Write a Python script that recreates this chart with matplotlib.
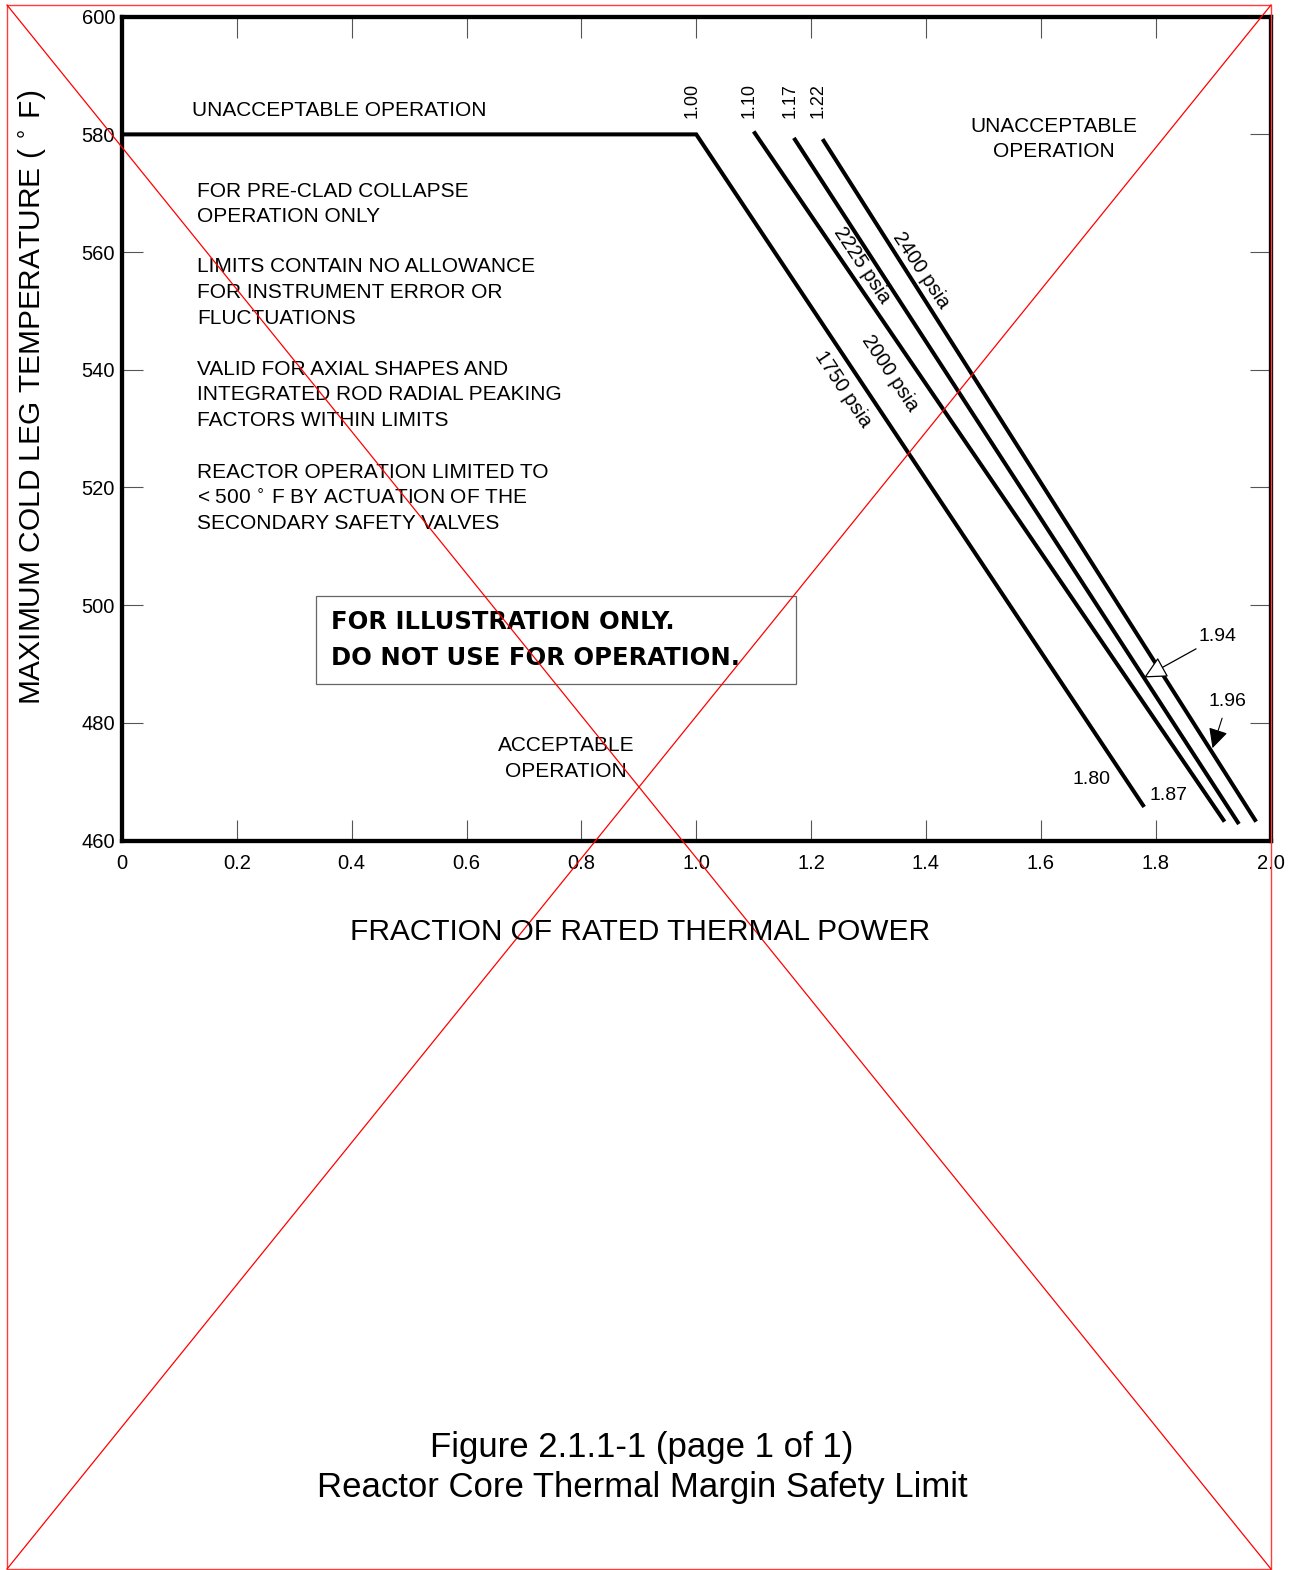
import matplotlib
matplotlib.use("Agg")
import matplotlib.pyplot as plt
from matplotlib.patches import Rectangle
from matplotlib.lines import Line2D

plt.rcParams['font.family'] = ['Liberation Sans', 'DejaVu Sans']
plt.rcParams['mathtext.fontset'] = 'dejavusans'

# ---- axis scales -------------------------------------------------------
x_ticks = [0.0, 0.2, 0.4, 0.6, 0.8, 1.0, 1.2, 1.4, 1.6, 1.8, 2.0]
x_tick_labels = ['0', '0.2', '0.4', '0.6', '0.8', '1.0', '1.2', '1.4', '1.6', '1.8', '2.0']
y_ticks = [460, 480, 500, 520, 540, 560, 580, 600]
y_tick_labels = ['460', '480', '500', '520', '540', '560', '580', '600']

# ---- thermal margin limit lines (power fraction, cold leg temp in F) ---
pressures = ['1750 psia', '2000 psia', '2225 psia', '2400 psia']
start_power = [1.00, 1.10, 1.17, 1.22]
start_labels = ['1.00', '1.10', '1.17', '1.22']
start_temp = [580.0, 580.5, 579.4, 579.2]
end_power = [1.78, 1.92, 1.945, 1.975]
end_temp = [465.7, 463.2, 462.8, 463.2]
plateau_temp = 580.0

# where each pressure name sits along its line
pressure_label_x = [1.256, 1.338, 1.288, 1.392]
pressure_label_y = [536.7, 539.4, 557.8, 557.0]

notes = [
    ('FOR PRE-CLAD COLLAPSE', 569.31),
    ('OPERATION ONLY', 565.05),
    ('LIMITS CONTAIN NO ALLOWANCE', 556.53),
    ('FOR INSTRUMENT ERROR OR', 552.19),
    ('FLUCTUATIONS', 547.86),
    ('VALID FOR AXIAL SHAPES AND', 539.19),
    ('INTEGRATED ROD RADIAL PEAKING', 534.86),
    ('FACTORS WITHIN LIMITS', 530.52),
    ('REACTOR OPERATION LIMITED TO', 521.55),
    ('< 500 $^{\\circ}$ F BY ACTUATION OF THE', 517.13),
    ('SECONDARY SAFETY VALVES', 512.93),
]

W, H = 1295, 1570
fig = plt.figure(figsize=(W / 100, H / 100), dpi=100)
ax = fig.add_axes([122 / W, 1 - 840.5 / H, (1270.5 - 122) / W, (840.5 - 16.7) / H])
ax.set_xlim(0, 2.0)
ax.set_ylim(460, 600)

for s in ax.spines.values():
    s.set_linewidth(3.1)
    s.set_color('black')

ax.set_xticks(x_ticks)
ax.set_xticklabels(x_tick_labels)
ax.set_yticks(y_ticks)
ax.set_yticklabels(y_tick_labels)
ax.tick_params(direction='in', length=15, width=0.8, color='#555555',
               top=True, right=True, labelsize=14.5)
ax.tick_params(axis='x', pad=10)
ax.tick_params(axis='y', pad=5)

# limit lines
for i in range(len(pressures)):
    if i == 0:
        xs = [0.0, start_power[i], end_power[i]]
        ys = [plateau_temp, plateau_temp, end_temp[i]]
    else:
        xs = [start_power[i], end_power[i]]
        ys = [start_temp[i], end_temp[i]]
    ax.plot(xs, ys, color='black', lw=2.9, solid_capstyle='butt',
            solid_joinstyle='miter')
    ax.annotate(start_labels[i], (start_power[i], 582.8), xytext=(-3, 0),
                textcoords='offset points', rotation=90, ha='center',
                va='bottom', fontsize=13)
    ax.text(pressure_label_x[i], pressure_label_y[i], pressures[i],
            rotation=-56.5, rotation_mode='anchor', ha='center', va='center',
            fontsize=14.5)

# end value labels
ax.text(1.689, 470.3, '1.80', ha='center', va='center', fontsize=14)
ax.text(1.823, 467.7, '1.87', ha='center', va='center', fontsize=14)
ax.annotate('1.94', xy=(1.780, 487.7), xytext=(1.908, 494.6), ha='center',
            va='center', fontsize=14,
            arrowprops=dict(arrowstyle='-|>,head_length=0.7,head_width=0.35',
                            fc='white', ec='black', lw=0.9, shrinkA=1,
                            shrinkB=0, mutation_scale=20))
ax.annotate('1.96', xy=(1.899, 475.7), xytext=(1.925, 483.6), ha='center',
            va='center', fontsize=14,
            arrowprops=dict(arrowstyle='-|>,head_length=0.6,head_width=0.3',
                            fc='black', ec='black', lw=0.8, shrinkA=4,
                            shrinkB=0, mutation_scale=20))

# region text
ax.text(0.122, 583.11, 'UNACCEPTABLE OPERATION', ha='left', va='baseline',
        fontsize=15)
ax.text(1.622, 580.46, 'UNACCEPTABLE', ha='center', va='baseline', fontsize=15)
ax.text(1.622, 576.21, 'OPERATION', ha='center', va='baseline', fontsize=15)
ax.text(0.773, 475.2, 'ACCEPTABLE', ha='center', va='baseline', fontsize=15)
ax.text(0.773, 470.87, 'OPERATION', ha='center', va='baseline', fontsize=15)

for txt, yb in notes:
    ax.text(0.1312, yb, txt, ha='left', va='baseline', fontsize=15)

# caution box
ax.add_patch(Rectangle((0.3378, 486.59), 1.1737 - 0.3378, 501.55 - 486.59,
                       fill=False, ec='#666666', lw=0.9))
ax.text(0.364, 495.95, 'FOR ILLUSTRATION ONLY.', ha='left', va='baseline',
        fontsize=17.5, fontweight='bold', family='DejaVu Sans')
ax.text(0.364, 489.85, 'DO NOT USE FOR OPERATION.', ha='left', va='baseline',
        fontsize=17.5, fontweight='bold', family='DejaVu Sans')

# axis titles
fig.text(640.5 / W, 1 - 932 / H, 'FRACTION OF RATED THERMAL POWER',
         ha='center', va='center', fontsize=21.5)
fig.text(32 / W, 1 - 397.5 / H, 'MAXIMUM COLD LEG TEMPERATURE ( $^{\\circ}$ F)',
         ha='center', va='center', rotation=90, fontsize=21.5)

# figure caption
fig.text(642 / W, 1 - 1457 / H, 'Figure 2.1.1-1 (page 1 of 1)',
         ha='center', va='baseline', fontsize=25)
fig.text(642 / W, 1 - 1497 / H, 'Reactor Core Thermal Margin Safety Limit',
         ha='center', va='baseline', fontsize=25)

# red cross-out over the whole sheet
x0, x1 = 7 / W, 1271 / W
y0, y1 = 1 - 5 / H, 1 - 1569 / H
fig.add_artist(Rectangle((x0, y1), x1 - x0, y0 - y1, transform=fig.transFigure,
                         fill=False, ec='#ff3b3b', lw=1.0))
fig.add_artist(Line2D([x0, x1], [y0, y1], transform=fig.transFigure,
                      color='red', lw=0.9))
fig.add_artist(Line2D([x1, x0], [y0, y1], transform=fig.transFigure,
                      color='red', lw=0.9))

fig.savefig('out.png', dpi=100)
